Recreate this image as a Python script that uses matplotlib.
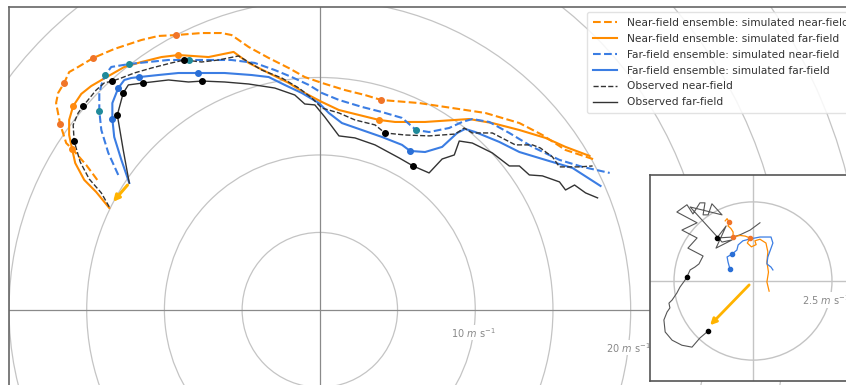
import numpy as np
import matplotlib
matplotlib.use("Agg")
import matplotlib.pyplot as plt
from matplotlib.patches import Circle

# hodograph tracks (u, v in m/s)
nf_near_u = [-14.32, -15.03, -15.87, -16.32, -16.71, -16.97, -16.84, -16.45, -16.13, -15.55, -14.58, -13.23, -11.48,
             -10.39, -9.23, -7.61, -6.32, -5.68, -4.58, -3.29, -2.0, -0.97, 0.13, 1.61, 2.90, 3.94, 6.39, 8.52,
             10.65, 12.84, 14.32, 15.81, 17.74]
nf_near_v = [8.39, 9.35, 10.32, 10.77, 12.0, 13.35, 14.0, 14.65, 15.35, 15.68, 16.26, 16.84, 17.42, 17.68, 17.74,
             17.87, 17.87, 17.74, 16.97, 16.26, 15.61, 15.03, 14.65, 14.19, 13.87, 13.55, 13.35, 13.03, 12.71,
             12.06, 11.29, 10.32, 9.68]
nf_near_mk = [4, 7, 10, 14, 25]

nf_far_u = [-13.55, -14.39, -15.16, -15.74, -15.94, -16.13, -16.13, -15.87, -15.35, -14.71, -13.94, -12.58, -11.48,
            -10.19, -9.10, -7.16, -5.55, -4.58, -3.29, -2.0, -0.97, 0.13, 1.23, 2.52, 3.81, 4.84, 6.77, 9.61,
            11.10, 12.84, 14.52, 15.81, 17.35]
nf_far_v = [6.58, 7.61, 8.39, 9.48, 10.39, 11.29, 12.26, 13.16, 13.94, 14.45, 14.90, 15.68, 16.0, 16.32, 16.45,
            16.32, 16.65, 15.94, 15.29, 14.65, 14.0, 13.42, 12.90, 12.58, 12.26, 12.13, 12.13, 12.32, 12.06,
            11.61, 11.10, 10.52, 9.94]
nf_far_mk = [4, 7, 14, 24]

ff_near_u = [-12.97, -13.61, -14.06, -14.19, -14.19, -14.0, -13.81, -13.42, -12.26, -11.03, -9.74, -8.39, -5.68,
             -4.19, -2.90, -1.81, -0.71, 0.13, 1.23, 2.71, 4.0, 5.29, 6.19, 7.03, 8.32, 9.16, 9.81, 10.90, 12.19,
             13.68, 15.42, 16.90, 18.65]
ff_near_v = [8.71, 10.13, 11.61, 12.84, 14.0, 14.71, 15.16, 15.68, 15.87, 16.0, 16.13, 16.13, 16.13, 15.94, 15.48,
             15.03, 14.52, 14.0, 13.55, 13.10, 12.77, 12.39, 11.61, 11.48, 11.74, 12.13, 12.32, 12.13, 11.42,
             10.52, 9.68, 9.23, 8.84]
ff_near_mk = [3, 6, 8, 11, 22]

ff_far_u = [-12.26, -12.77, -13.23, -13.35, -13.35, -12.97, -12.58, -12.13, -11.61, -10.39, -9.10, -7.81, -6.13,
            -4.39, -3.29, -2.26, -1.16, -0.06, 0.58, 1.42, 2.71, 4.0, 5.29, 5.81, 6.77, 7.87, 8.84, 9.35, 10.0,
            11.55, 12.84, 14.52, 16.26, 18.06]
ff_far_v = [8.19, 9.68, 11.16, 12.32, 13.35, 14.32, 14.84, 14.97, 15.03, 15.16, 15.29, 15.29, 15.29, 15.16, 15.03,
            14.52, 14.0, 13.35, 12.71, 12.06, 11.61, 11.16, 10.65, 10.26, 10.19, 10.52, 11.42, 11.68, 11.48,
            10.84, 10.19, 9.68, 9.16, 8.0]
ff_far_mk = [3, 5, 8, 11, 23]

obs_near_u = [-13.55, -14.06, -14.84, -15.42, -15.81, -15.87, -15.55, -15.23, -14.39, -13.87, -13.35, -12.77,
              -11.94, -10.84, -9.55, -8.71, -7.61, -6.52, -5.23, -3.74, -2.45, -1.35, -0.52, 0.13, 1.23, 2.26,
              3.55, 4.19, 5.48, 7.03, 8.71, 9.29, 9.81, 11.10, 12.58, 13.68, 14.19, 14.97, 15.42, 16.71, 17.55]
obs_near_v = [6.65, 7.55, 8.45, 9.55, 10.90, 11.94, 12.71, 13.16, 14.19, 14.65, 14.77, 14.97, 15.29, 15.61, 15.94,
              16.13, 16.0, 16.13, 16.39, 15.48, 14.97, 14.32, 13.68, 13.03, 12.71, 12.26, 11.94, 11.42, 11.29,
              11.23, 11.35, 11.74, 11.42, 11.42, 10.65, 10.65, 10.45, 9.87, 9.23, 9.23, 9.29]
obs_near_mk = [4, 7, 10, 15, 27]

obs_far_u = [-12.26, -12.65, -13.03, -12.65, -12.32, -11.35, -9.74, -8.45, -7.55, -6.13, -4.58, -2.90, -1.61,
             -0.97, -0.32, 0.32, 1.23, 2.26, 3.55, 5.10, 6.0, 7.03, 7.87, 8.65, 8.97, 9.81, 11.10, 12.19, 12.84,
             13.48, 14.32, 15.42, 15.81, 16.39, 17.10, 17.87]
obs_far_v = [8.19, 10.32, 12.58, 14.0, 14.52, 14.65, 14.84, 14.71, 14.77, 14.71, 14.58, 14.32, 13.87, 13.29, 13.23,
             12.45, 11.23, 11.10, 10.65, 9.81, 9.29, 8.84, 9.74, 10.0, 10.90, 10.77, 10.13, 9.29, 9.29, 8.71, 8.65,
             8.26, 7.74, 8.06, 7.55, 7.23]
obs_far_mk = [2, 3, 5, 8, 20]

# storm motion arrow (main panel)
arrow_from = (-12.26, 8.19)
arrow_to = (-13.42, 6.84)

# inset: perturbation tracks
ins_obs_u = [-1.42, -1.68, -1.93, -2.25, -2.56, -2.78, -2.82, -2.72, -2.63, -2.66, -2.56, -2.41, -2.31, -2.15,
             -2.09, -1.99, -1.84, -1.71, -1.58, -2.06, -1.77, -2.25, -1.77, -2.41, -2.09, -1.90, -1.68, -1.52,
             -1.58, -1.42, -1.30, -0.98, -1.99, -0.98, -0.66, -1.17, -0.85, -1.14, -0.63, -0.41, -0.09, 0.22]
ins_obs_v = [-1.58, -1.80, -2.09, -2.03, -1.87, -1.61, -1.23, -0.98, -0.85, -0.70, -0.60, -0.38, -0.19, 0.03,
             0.13, 0.35, 0.44, 0.54, 0.79, 1.04, 1.36, 1.61, 1.84, 2.18, 2.41, 2.12, 2.47, 2.47, 2.09, 2.09, 2.44,
             2.09, 2.34, 1.23, 1.30, 1.04, 1.74, 1.36, 1.39, 1.46, 1.61, 1.84]
ins_obs_mk = [0, 14, 37]

ins_or_u = [-0.88, -0.82, -0.75, -0.79, -0.70, -0.63, -0.63, -0.41, -0.25, -0.09, -0.18, -0.05, 0.10, 0.06, 0.22,
            0.41, 0.47, 0.44, 0.49, 0.44, 0.51]
ins_or_v = [1.90, 1.97, 1.85, 1.74, 1.66, 1.55, 1.39, 1.44, 1.42, 1.36, 1.20, 1.08, 1.15, 1.27, 1.32, 1.20, 0.92,
            0.60, 0.28, -0.03, -0.32]
ins_or_mk = [2, 6, 9]

ins_bl_u = [-0.73, -0.79, -0.82, -0.66, -0.51, -0.47, -0.32, -0.09, 0.22, 0.57, 0.63, 0.47, 0.44, 0.57, 0.63]
ins_bl_v = [0.38, 0.60, 0.76, 0.85, 0.98, 1.14, 1.27, 1.33, 1.39, 1.39, 1.20, 0.76, 0.54, 0.44, 0.35]
ins_bl_mk = [0, 3]

ins_arrow_from = (-0.06, -0.06)
ins_arrow_to = (-1.42, -1.46)

ring_labels = [10, 20]
ring_angles = [-8.5, -7.0]

ORANGE = "#ff8c00"
BLUE = "#3b7de3"
GOLD = "#ffb300"
GRID = "#c4c4c4"

fig = plt.figure(figsize=(8.46, 3.85), dpi=100)
ax = fig.add_axes([9 / 846, -0.05, 1.06, 1.05 - 7 / 385])
ax.set_xlim(-20, 37.7)
ax.set_ylim(-6.09, 19.55)

for r in range(5, 45, 5):
    ax.add_patch(Circle((0, 0), r, fill=False, ec=GRID, lw=0.9, zorder=1))
ax.axhline(0, color="#8a8a8a", lw=0.9, zorder=1)
ax.axvline(0, color="#8a8a8a", lw=0.9, zorder=1)
for r, a in zip(ring_labels, ring_angles):
    ax.text(r * np.cos(np.radians(a)), r * np.sin(np.radians(a)), r"%d $m$ s$^{-1}$" % r,
            color="#888888", fontsize=7, ha="center", va="center", zorder=2,
            bbox=dict(fc="white", ec="none", pad=0.5))

tracks = [
    (nf_near_u, nf_near_v, nf_near_mk, ORANGE, "--", 1.5, "#f07428", "Near-field ensemble: simulated near-field"),
    (nf_far_u, nf_far_v, nf_far_mk, ORANGE, "-", 1.5, "#ff8a10", "Near-field ensemble: simulated far-field"),
    (ff_near_u, ff_near_v, ff_near_mk, BLUE, "--", 1.5, "#1f8a9a", "Far-field ensemble: simulated near-field"),
    (ff_far_u, ff_far_v, ff_far_mk, BLUE, "-", 1.5, "#2a6fd6", "Far-field ensemble: simulated far-field"),
    (obs_near_u, obs_near_v, obs_near_mk, "#333333", "--", 1.0, "black", "Observed near-field"),
    (obs_far_u, obs_far_v, obs_far_mk, "#333333", "-", 1.0, "black", "Observed far-field"),
]
for u, v, mk, c, ls, lw, mc, lab in tracks:
    ax.plot(u, v, color=c, ls=ls, lw=lw, label=lab, zorder=3)
    ax.plot(np.array(u)[mk], np.array(v)[mk], "o", color=mc, ms=4, zorder=4)

ax.annotate("", xy=arrow_to, xytext=arrow_from,
            arrowprops=dict(arrowstyle="-|>", color=GOLD, lw=2.2, mutation_scale=9), zorder=5)

for s in ax.spines.values():
    s.set_color("#666666")
    s.set_linewidth(1.2)
ax.set_xticks([])
ax.set_yticks([])

fig.legend(loc="upper left", bbox_to_anchor=(587 / 846, 1 - 12 / 385), borderaxespad=0,
           fontsize=7.7, handlelength=2.3, handletextpad=0.85, labelspacing=0.55, borderpad=0.55,
           labelcolor="#333333", edgecolor="#dddddd", framealpha=0.85)

# inset
ins = fig.add_axes([650 / 846, 4 / 385, 206 / 846, 206 / 385])
ins.set_xlim(-3.26, 3.26)
ins.set_ylim(-3.16, 3.35)
ins.add_patch(Circle((0, 0), 2.5, fill=False, ec=GRID, lw=1.0, zorder=1))
ins.axhline(0, color=GRID, lw=1.0, zorder=1)
ins.axvline(0, color=GRID, lw=1.0, zorder=1)
ins.text(2.30, -0.60, r"2.5 $m$ s$^{-1}$", color="#888888", fontsize=7, ha="center", va="center",
         zorder=2, bbox=dict(fc="white", ec="none", pad=0.5))
ins.plot(ins_obs_u, ins_obs_v, color="#555555", lw=0.8, zorder=3)
ins.plot(np.array(ins_obs_u)[ins_obs_mk], np.array(ins_obs_v)[ins_obs_mk], "o", color="black", ms=3, zorder=4)
ins.plot(ins_or_u, ins_or_v, color=ORANGE, lw=0.9, zorder=3)
ins.plot(np.array(ins_or_u)[ins_or_mk], np.array(ins_or_v)[ins_or_mk], "o", color="#f07428", ms=3, zorder=4)
ins.plot(ins_bl_u, ins_bl_v, color=BLUE, lw=0.9, zorder=3)
ins.plot(np.array(ins_bl_u)[ins_bl_mk], np.array(ins_bl_v)[ins_bl_mk], "o", color="#2a6fd6", ms=3, zorder=4)
ins.annotate("", xy=ins_arrow_to, xytext=ins_arrow_from,
             arrowprops=dict(arrowstyle="-|>", color=GOLD, lw=2.0, mutation_scale=9), zorder=5)
for s in ins.spines.values():
    s.set_color("#555555")
    s.set_linewidth(1.2)
ins.set_xticks([])
ins.set_yticks([])

fig.savefig("out.png", dpi=100)
